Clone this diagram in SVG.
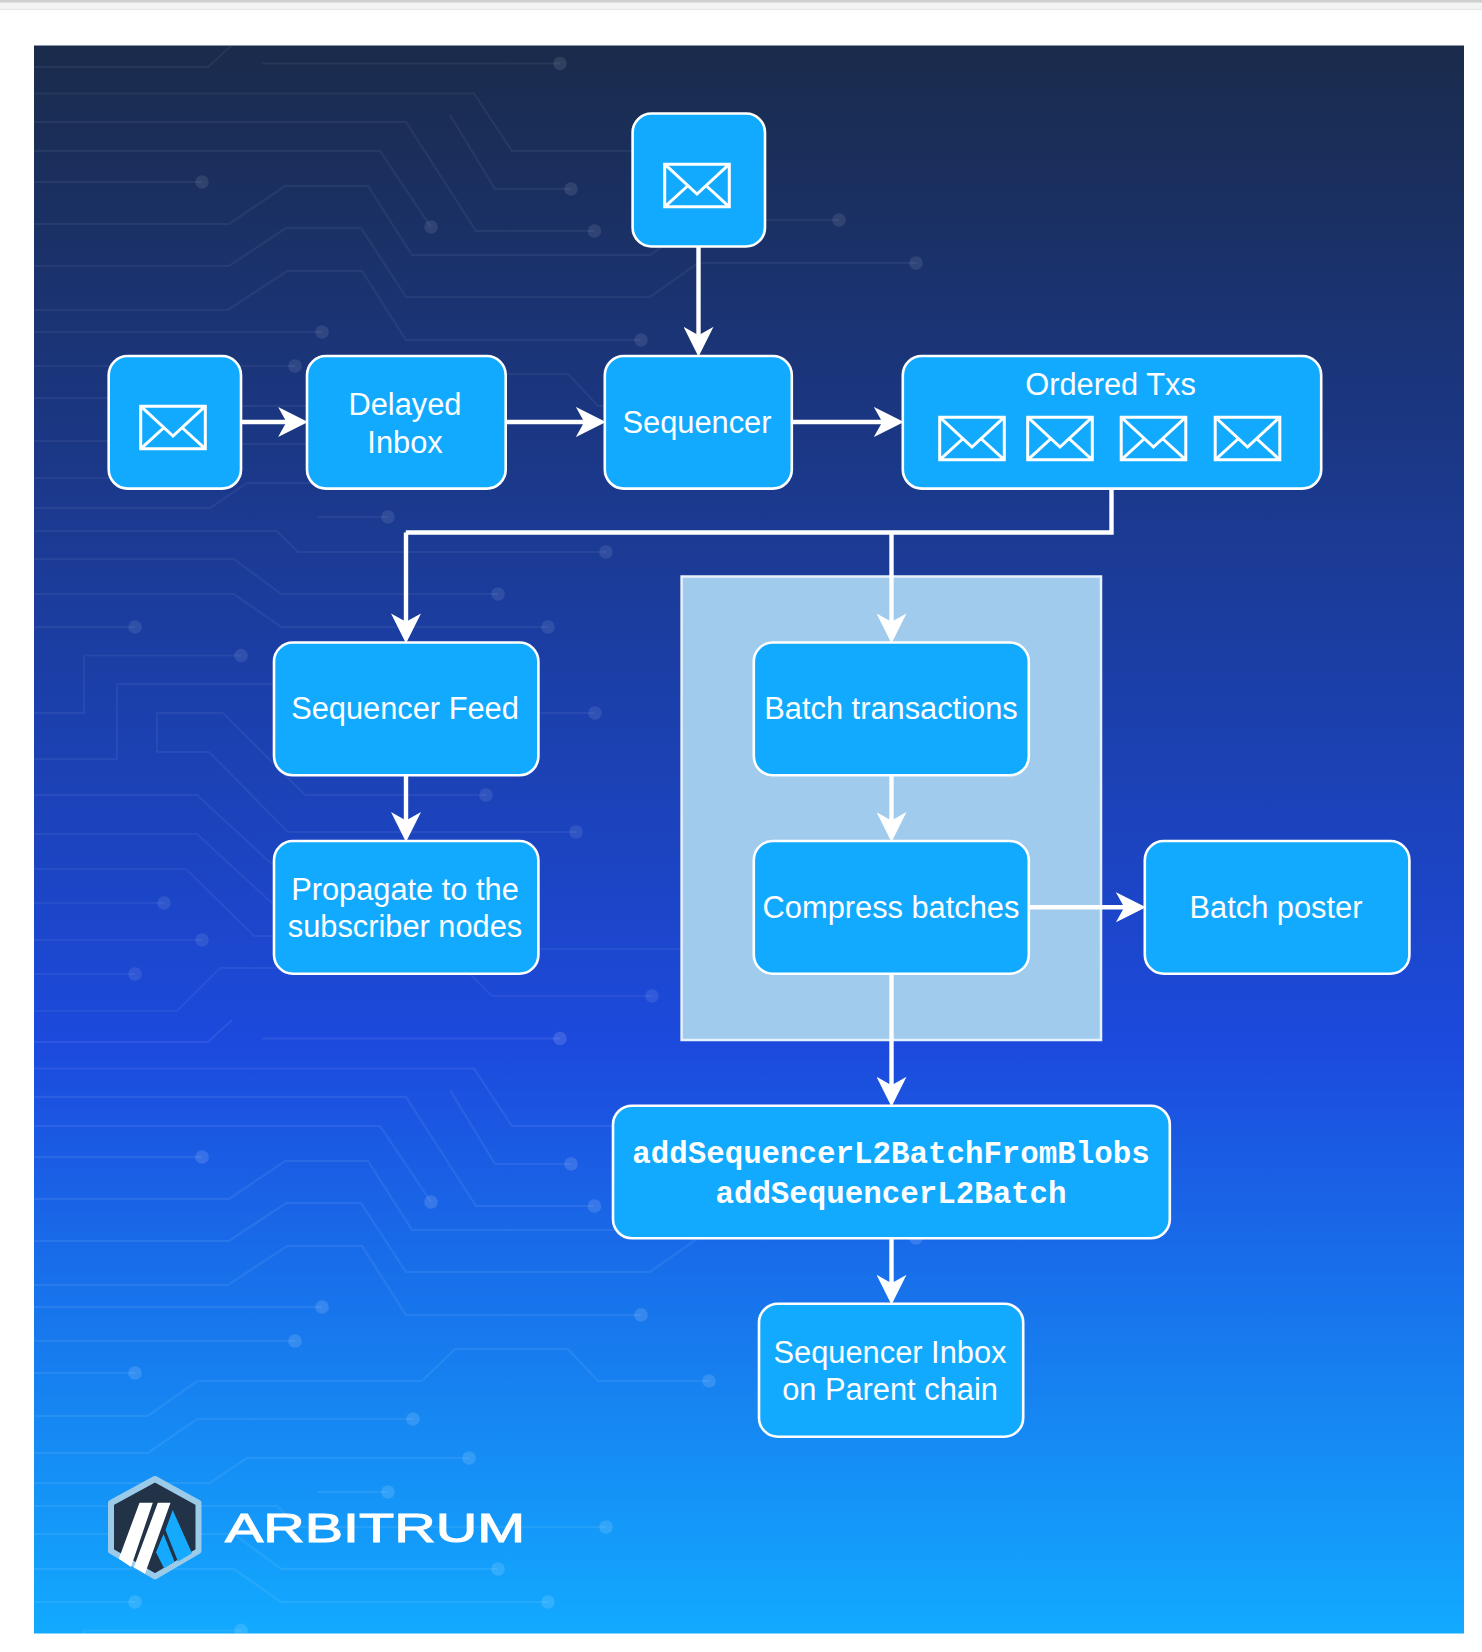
<svg xmlns="http://www.w3.org/2000/svg" width="1482" height="1652" viewBox="0 0 1482 1652">
<style>
.node{fill:#12aaff;stroke:#fff;stroke-width:2.6}
.t{font-family:"Liberation Sans",Arial,sans-serif;font-size:30.8px;fill:#fff;text-anchor:middle}
.m{font-family:"Liberation Mono","Courier New",monospace;font-size:30.8px;font-weight:bold;fill:#fff;text-anchor:middle}
.env{fill:none;stroke:#fff;stroke-width:3;stroke-linejoin:miter}
.tr{fill:none;stroke:#fff;stroke-opacity:.07;stroke-width:2.2}
.tr circle{fill:#fff;fill-opacity:.13;stroke:none}
.c{fill:none;stroke:#fff;stroke-width:4.4;marker-end:url(#ah)}
.c0{fill:none;stroke:#fff;stroke-width:4.4}
</style>
<defs>
<linearGradient id="bg" x1="0" y1="0" x2="0" y2="1">
<stop offset="0" stop-color="#1a2b4b"/>
<stop offset=".63" stop-color="#1c4add"/>
<stop offset="1" stop-color="#12aaff"/>
</linearGradient>
<clipPath id="pc"><rect x="34" y="45.5" width="1430" height="1588"/></clipPath>
<filter id="soft" x="-5%" y="-5%" width="110%" height="110%"><feGaussianBlur stdDeviation=".7"/></filter>
<filter id="soft2" x="-5%" y="-5%" width="110%" height="110%"><feGaussianBlur stdDeviation=".6"/></filter>
<marker id="ah" markerUnits="userSpaceOnUse" markerWidth="30" markerHeight="30" viewBox="0 0 27 27" refX="8" refY="13.5" orient="auto">
<path d="M27,13.5 L0,0 L7.5,13.5 L0,27 Z" fill="#fff"/>
</marker>
<symbol id="envelope" viewBox="0 0 67 45" width="67" height="45" overflow="visible">
<path class="env" d="M1.2,1.2H65.8V43.8H1.2Z M1.2,1.2 L33.5,31 L65.8,1.2 M1.2,43.8 L24,23 M65.800,43.8 L43,23"/>
</symbol>
<g id="tile" class="tr">
<path d="M34,67H208L232,45"/>
<path d="M262,63.5H560"/><circle cx="560" cy="63.5" r="6.8"/>
<path d="M34,93.5H474L512,151H640"/>
<path d="M34,122H406L476,231H594"/><circle cx="594.5" cy="231" r="6.8"/>
<path d="M450,115L495,189H571"/><circle cx="571" cy="189" r="6.8"/>
<path d="M34,151H380L431,227"/><circle cx="431" cy="227" r="6.8"/>
<path d="M34,182H202"/><circle cx="202" cy="182" r="6.8"/>
<path d="M34,224H229L285,186H368L412,255H650L698,222"/>
<path d="M34,266H229L286,228H361L406,297H650L698,263H916"/><circle cx="916" cy="263" r="6.8"/>
<path d="M34,310H228L287,271H362L406,340H641"/><circle cx="641" cy="340" r="6.8"/>
<path d="M34,332H322"/><circle cx="322" cy="332" r="6.8"/>
<path d="M34,366H295"/><circle cx="295" cy="366" r="6.8"/>
<path d="M640,220H839"/><circle cx="839" cy="220" r="6.8"/>
<path d="M34,398H135"/><circle cx="135" cy="398" r="6.8"/>
<path d="M34,441H148L197,406H422L455,374H568L598,406H709"/><circle cx="709" cy="406" r="6.8"/>
<path d="M34,478H148L197,444H413"/><circle cx="413" cy="444" r="6.8"/>
<path d="M34,508H210L247,483H469"/><circle cx="469" cy="483" r="6.8"/>
<path d="M317,517H388"/><circle cx="388" cy="517" r="6.8"/>
<path d="M34,531H277L298,552H606"/><circle cx="606" cy="552" r="6.8"/>
<path d="M34,559H234L281,594H498"/><circle cx="498" cy="594" r="6.8"/>
<path d="M34,594H234L281,627H548"/><circle cx="548" cy="627" r="6.8"/>
<path d="M34,627H135"/><circle cx="135" cy="627" r="6.8"/>
<path d="M34,713H84V655.500H241"/><circle cx="241" cy="655.500" r="6.8"/>
<path d="M34,759H117V684H300"/>
<path d="M157,752V713H223L305,795H486"/><circle cx="486" cy="795" r="6.8"/>
<path d="M157,752H209L288,832H576"/><circle cx="576" cy="832" r="6.8"/>
<path d="M34,795H197L274,866"/>
<path d="M34,834H197L274,905"/>
<path d="M34,869H186L254,936H300"/>
<path d="M34,903H164"/><circle cx="164" cy="903" r="6.8"/>
<path d="M34,940H202"/><circle cx="202" cy="940" r="6.8"/>
<path d="M34,974H135"/><circle cx="135" cy="974" r="6.8"/>
<path d="M34,1011H177L220,968H300"/>
<path d="M538,713H595"/><circle cx="595" cy="713" r="6.8"/>
<path d="M538,949H700"/>
<path d="M470,974L492,996H652"/><circle cx="652" cy="996" r="6.8"/>
</g>
</defs>

<rect x="0" y="0" width="1482" height="9" fill="#f3f3f3"/>
<rect x="0" y="0" width="1482" height="2.500" fill="#cfcfcf"/>
<rect x="0" y="9" width="1482" height="1" fill="#e6e6e6"/>

<rect id="panel" x="34" y="45.5" width="1430" height="1588" fill="url(#bg)"/>
<g id="circuit" clip-path="url(#pc)" filter="url(#soft2)">
<use href="#tile" opacity=".75"/>
<use href="#tile" y="975"/>
</g>

<rect id="batch-group" x="681.600" y="576.500" width="419.400" height="463.500" fill="#a0cbed" stroke="#e6f1fa" stroke-width="2.500"/>

<g id="connectors">
<path class="c" d="M698.500,246.500V335.700"/>
<path class="c" d="M241,422H287"/>
<path class="c" d="M505.700,422H584.800"/>
<path class="c" d="M792,422H882.800"/>
<path class="c0" d="M1111.500,488.600V532.500H405.800"/>
<path class="c" d="M406,532.500V622.300"/>
<path class="c" d="M891.500,532.500V622.300"/>
<path class="c" d="M406,775.300V821"/>
<path class="c" d="M891.500,775.300V821"/>
<path class="c" d="M1028.700,907.300H1124.800"/>
<path class="c" d="M891.500,973.700V1085.700"/>
<path class="c" d="M891.500,1238.300V1283.700"/>
</g>

<g id="msg-top">
<rect class="node" x="632.600" y="113.500" width="132.400" height="133" rx="19"/>
<use href="#envelope" x="663.500" y="163"/>
</g>
<g id="msg-left">
<rect class="node" x="108.700" y="356" width="132.300" height="132.600" rx="19"/>
<use href="#envelope" x="139.500" y="405"/>
</g>
<g id="delayed-inbox">
<rect class="node" x="307" y="356" width="198.700" height="132.600" rx="19"/>
<text class="t" x="405" y="414.500">Delayed</text>
<text class="t" x="405" y="452.500">Inbox</text>
</g>
<g id="sequencer">
<rect class="node" x="604.800" y="356" width="187" height="132.600" rx="19"/>
<text class="t" x="697" y="433">Sequencer</text>
</g>
<g id="ordered-txs">
<rect class="node" x="902.800" y="356" width="418.400" height="132.600" rx="19"/>
<text class="t" x="1110.500" y="394.800">Ordered Txs</text>
<use href="#envelope" x="938.500" y="416"/>
<use href="#envelope" x="1026.500" y="416"/>
<use href="#envelope" x="1120" y="416"/>
<use href="#envelope" x="1214" y="416"/>
</g>
<g id="sequencer-feed">
<rect class="node" x="274" y="642.500" width="264.400" height="132.800" rx="19"/>
<text class="t" x="405" y="719">Sequencer Feed</text>
</g>
<g id="propagate">
<rect class="node" x="274" y="841" width="264.400" height="132.700" rx="19"/>
<text class="t" x="405" y="900">Propagate to the</text>
<text class="t" x="405" y="937">subscriber nodes</text>
</g>
<g id="batch-transactions">
<rect class="node" x="753.800" y="642.500" width="275" height="132.800" rx="19"/>
<text class="t" x="891" y="719">Batch transactions</text>
</g>
<g id="compress-batches">
<rect class="node" x="753.800" y="841" width="275" height="132.700" rx="19"/>
<text class="t" x="891" y="918">Compress batches</text>
</g>
<g id="batch-poster">
<rect class="node" x="1144.800" y="841" width="264.600" height="132.700" rx="19"/>
<text class="t" x="1276" y="918">Batch poster</text>
</g>
<g id="add-sequencer">
<rect class="node" x="613" y="1105.700" width="556.800" height="132.600" rx="19"/>
<text class="m" x="891" y="1162.500">addSequencerL2BatchFromBlobs</text>
<text class="m" x="891" y="1202.500">addSequencerL2Batch</text>
</g>
<g id="sequencer-inbox">
<rect class="node" x="759" y="1303.700" width="264.200" height="133" rx="19"/>
<text class="t" x="890" y="1362.500">Sequencer Inbox</text>
<text class="t" x="890" y="1400">on Parent chain</text>
</g>

<g id="logo">
<g filter="url(#soft)">
<path d="M155,1479 L198.500,1503 V1551 L155,1576.500 L111,1551 V1503 Z" fill="#213147" stroke="#9ccbea" stroke-width="6" stroke-linejoin="round"/>
<path d="M139.500,1502.700H152.800L131,1567L118.800,1558.800Z M157.800,1502.700H170.500L145,1573.800L133.800,1567.200Z" fill="#fff"/>
<path d="M172.700,1510L192,1553.300L178,1561.500L165.500,1530Z M163.500,1534L174.500,1561.700L164,1568.200L156,1552.300Z" fill="#12aaff"/>
</g>
<text x="225" y="1541.500" font-family="'Liberation Sans',Arial,sans-serif" font-size="40" fill="#fff" stroke="#fff" stroke-width="1" textLength="300" lengthAdjust="spacingAndGlyphs" filter="url(#soft2)">ARBITRUM</text>
</g>
</svg>
